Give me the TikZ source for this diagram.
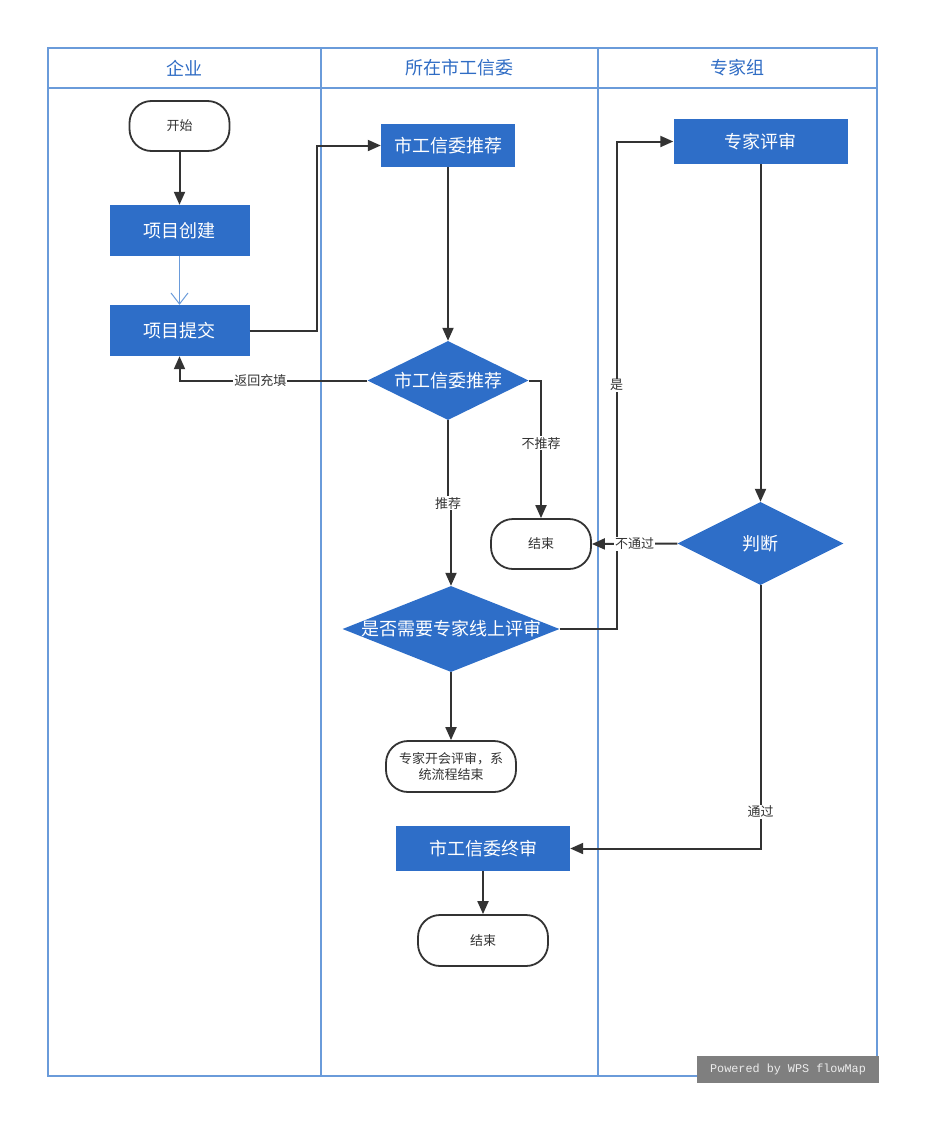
\documentclass[tikz,border=0pt]{standalone}
\usepackage{fontspec}
\setmainfont{Noto Sans CJK SC}
\newfontfamily\wmfont{Liberation Mono}
\usetikzlibrary{shapes.geometric,arrows.meta}

\definecolor{boxblue}{HTML}{2E6EC8}
\definecolor{lane}{HTML}{6A9BDA}
\definecolor{lanetext}{HTML}{2F6CC4}
\definecolor{ink}{HTML}{333333}
\definecolor{wmgray}{HTML}{7F7F7F}

\tikzset{
  proc/.style={rectangle, fill=boxblue, text=white, inner sep=0pt,
    font=\fontsize{18}{20}\selectfont},
  term/.style={rectangle, rounded corners=22pt, draw=ink, line width=1.8pt,
    fill=white, text=ink, align=center, inner sep=0pt,
    font=\fontsize{13}{16}\selectfont},
  dec/.style={diamond, fill=boxblue, inner sep=0pt},
  dectext/.style={text=white, font=\fontsize{18}{20}\selectfont},
  flow/.style={draw=ink, line width=2pt, -{Triangle[length=13pt,width=11pt]}},
  lbl/.style={fill=white, inner sep=1pt, text=ink,
    font=\fontsize{13}{15}\selectfont},
  lanehead/.style={text=lanetext, font=\fontsize{18}{20}\selectfont},
  laneline/.style={draw=lane, line width=1.5pt},
}

\begin{document}
\begin{tikzpicture}[x=1pt, y=-1pt]
  \useasboundingbox (0,0) rectangle (938,1138);

  % swimlanes
  \draw[laneline] (48,48) rectangle (877,1076);
  \draw[laneline] (48,88) -- (877,88);
  \draw[laneline] (321,48) -- (321,1076);
  \draw[laneline] (598,48) -- (598,1076);
  \node[lanehead] (h1) at (184,68) {企业};
  \node[lanehead] (h2) at (459,68) {所在市工信委};
  \node[lanehead] (h3) at (737,68) {专家组};

  % enterprise lane
  \node[term, minimum width=100pt, minimum height=50pt] (start) at (179.5,126) {开始};
  \node[proc, minimum width=140pt, minimum height=51pt] (create) at (179.5,230.5) {项目创建};
  \node[proc, minimum width=140pt, minimum height=51pt] (submit) at (179.5,330.5) {项目提交};

  % municipal lane
  \node[proc, minimum width=134pt, minimum height=43pt] (rec) at (448,145.5) {市工信委推荐};
  \node[dec, minimum width=161pt, minimum height=79pt,
        label={[dectext]center:市工信委推荐}] (d1) at (448,380.5) {};
  \node[term, minimum width=100pt, minimum height=50pt] (end1) at (541,544) {结束};
  \node[dec, minimum width=217pt, minimum height=86pt,
        label={[dectext]center:是否需要专家线上评审}] (d2) at (451,629) {};
  \node[term, minimum width=130pt, minimum height=51pt] (meet) at (451,766.5)
        {专家开会评审，系\\统流程结束};
  \node[proc, minimum width=174pt, minimum height=45pt] (final) at (483,848.5) {市工信委终审};
  \node[term, minimum width=130pt, minimum height=51pt] (end2) at (483,940.5) {结束};

  % expert lane
  \node[proc, minimum width=174pt, minimum height=45pt] (spec) at (760.5,141.5) {专家评审};
  \node[dec, minimum width=166pt, minimum height=83pt,
        label={[dectext]center:判断}] (judge) at (760.5,543.5) {};

  % connectors
  \draw[flow] (start) -- (create);
  \draw[draw=lane, line width=1pt, -{Straight Barb[length=11pt,width=17pt,line width=1pt]}]
    (create) -- (submit);
  \draw[flow] (submit.east) -- ++(67,0) |- (rec.west);
  \draw[flow] (rec) -- (d1);
  \draw[flow] (d1.west) -| node[lbl, pos=0.285] {返回充填} (submit.south);
  \draw[flow] (d1.east) -| node[lbl, pos=0.728] {不推荐} (end1.north);
  \draw[flow] (d1.south) -- ++(0,83) -| node[lbl, pos=0] {推荐} (d2.north);
  \draw[flow] (d2.east) -- ++(57,0) |- node[lbl, pos=0.25] {是} (spec.west);
  \draw[flow] (spec) -- (judge);
  \draw[flow] (judge.west) -- node[lbl] {不通过} (end1.east);
  \draw[flow] (judge.south) |- node[lbl, pos=0.43] {通过} (final.east);
  \draw[flow] (d2) -- (meet);
  \draw[flow] (final) -- (end2);

  % footer badge
  \node[fill=wmgray, text=white!85!wmgray, minimum width=182pt, minimum height=27pt,
        inner sep=0pt, font=\wmfont\fontsize{11.8}{13}\selectfont] (badge) at (788,1069.5)
        {Powered by WPS flowMap};
\end{tikzpicture}
\end{document}
